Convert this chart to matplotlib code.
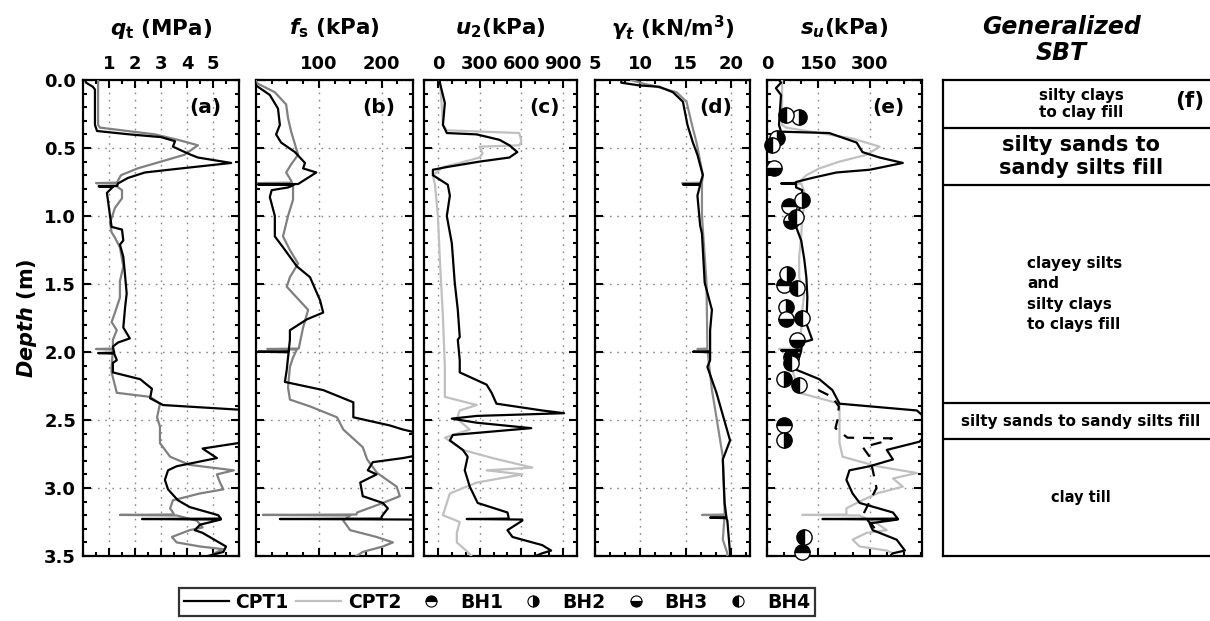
import numpy as np
import matplotlib
matplotlib.use("Agg")
from matplotlib import pyplot as plt
from matplotlib.lines import Line2D
from matplotlib.ticker import AutoMinorLocator, MultipleLocator

# ---- profiles: columns are (depth m, value) ----
qt_cpt1 = np.array([
    [0.00, 0.08], [0.02, 0.12], [0.05, 0.38], [0.07, 0.46], [0.33, 0.46],
    [0.375, 0.54], [0.40, 1.8], [0.42, 3.0], [0.45, 3.54], [0.49, 3.46],
    [0.52, 3.8], [0.55, 4.15], [0.57, 4.42], [0.61, 5.7], [0.655, 3.54],
    [0.68, 2.38], [0.72, 1.73], [0.76, 1.35], [0.78, 1.30], [0.782, 0.60],
    [0.786, 1.15], [0.83, 0.92], [0.90, 0.97], [1.00, 1.04], [1.08, 1.10],
    [1.10, 1.50], [1.18, 1.55], [1.21, 1.42], [1.30, 1.55], [1.40, 1.60],
    [1.57, 1.68], [1.67, 1.62], [1.82, 1.55], [1.90, 1.80], [1.93, 1.35],
    [1.96, 1.15], [2.005, 1.20], [2.008, 0.58], [2.012, 1.20], [2.06, 1.30],
    [2.08, 1.15], [2.15, 1.15], [2.20, 2.20], [2.27, 2.65], [2.34, 2.58],
    [2.39, 3.08], [2.43, 6.5], [2.55, 7.5], [2.66, 6.3], [2.71, 4.6],
    [2.78, 5.15], [2.84, 3.6], [2.87, 3.27], [2.94, 3.15], [3.01, 3.27],
    [3.09, 3.65], [3.14, 4.1], [3.20, 5.2], [3.225, 5.3], [3.228, 2.27],
    [3.232, 5.3], [3.27, 4.5], [3.31, 4.3], [3.33, 4.6], [3.43, 5.5],
    [3.47, 5.4], [3.50, 4.8]])
qt_cpt2 = np.array([
    [0.00, 0.58], [0.33, 0.58], [0.35, 0.65], [0.40, 2.77], [0.44, 3.65],
    [0.48, 4.42], [0.55, 3.9], [0.60, 3.0], [0.65, 2.1], [0.70, 1.46],
    [0.755, 1.30], [0.758, 0.50], [0.762, 1.30], [0.79, 1.35], [0.81, 1.5],
    [0.87, 1.5], [0.94, 1.23], [1.05, 1.04], [1.12, 1.10], [1.16, 1.23],
    [1.23, 1.42], [1.37, 1.55], [1.48, 1.42], [1.60, 1.42], [1.71, 1.23],
    [1.78, 1.10], [1.84, 1.30], [1.91, 1.15], [1.975, 1.15], [1.978, 0.50],
    [1.982, 1.15], [2.11, 1.10], [2.15, 1.10], [2.30, 1.30], [2.33, 2.58],
    [2.38, 2.96], [2.48, 2.85], [2.55, 2.96], [2.67, 2.96], [2.77, 3.35],
    [2.83, 4.1], [2.87, 5.8], [2.90, 5.15], [2.96, 5.27], [3.01, 5.4],
    [3.04, 4.5], [3.09, 3.46], [3.15, 3.35], [3.18, 3.46], [3.195, 3.5],
    [3.198, 1.42], [3.202, 3.6], [3.24, 4.38], [3.29, 4.6], [3.31, 4.1],
    [3.36, 3.42], [3.40, 3.6], [3.43, 4.5], [3.45, 5.4], [3.47, 5.15],
    [3.50, 4.9]])

fs_cpt1 = np.array([
    [0.00, -2], [0.04, 0], [0.11, 22], [0.21, 35], [0.33, 38], [0.40, 32],
    [0.46, 40], [0.53, 62], [0.61, 78], [0.65, 75], [0.68, 96], [0.765, 67],
    [0.768, 3], [0.772, 60], [0.79, 51], [0.81, 25], [0.86, 22], [1.00, 30],
    [1.15, 30], [1.23, 43], [1.37, 65], [1.45, 86], [1.62, 102], [1.71, 107],
    [1.76, 81], [1.84, 54], [1.91, 54], [1.995, 52], [1.998, 3], [2.002, 52],
    [2.04, 51], [2.13, 49], [2.22, 46], [2.28, 107], [2.37, 155], [2.48, 155],
    [2.54, 213], [2.57, 234], [2.62, 280], [2.74, 280], [2.78, 234],
    [2.81, 186], [2.87, 178], [2.90, 192], [2.96, 166], [3.06, 170],
    [3.11, 202], [3.15, 210], [3.21, 200], [3.225, 200], [3.228, 38],
    [3.232, 260], [3.30, 290], [3.45, 280], [3.50, 270]])
fs_cpt2 = np.array([
    [0.00, 0], [0.02, 0], [0.09, 30], [0.18, 48], [0.28, 51], [0.38, 56],
    [0.55, 67], [0.62, 56], [0.68, 48], [0.74, 56], [0.755, 57], [0.758, 3],
    [0.762, 58], [0.79, 59], [0.88, 59], [1.00, 51], [1.15, 43], [1.25, 54],
    [1.35, 67], [1.45, 54], [1.52, 49], [1.60, 65], [1.69, 83], [1.82, 75],
    [1.93, 70], [1.975, 68], [1.978, 18], [1.982, 65], [2.04, 59], [2.11, 54],
    [2.26, 51], [2.35, 54], [2.40, 86], [2.48, 129], [2.57, 139], [2.70, 170],
    [2.79, 177], [2.89, 193], [2.99, 224], [3.06, 229], [3.11, 202],
    [3.18, 161], [3.195, 160], [3.198, 11], [3.202, 150], [3.24, 139],
    [3.31, 150], [3.36, 192], [3.40, 218], [3.43, 202], [3.47, 170],
    [3.50, 160]])

u2_cpt1 = np.array([
    [0.00, 14], [0.02, 14], [0.17, 50], [0.33, 36], [0.39, 64], [0.40, 279],
    [0.44, 443], [0.48, 514], [0.53, 571], [0.57, 514], [0.60, 300],
    [0.64, 64], [0.66, -36], [0.70, -36], [0.77, 71], [0.85, 86], [1.00, 64],
    [1.20, 100], [1.49, 121], [1.69, 143], [1.89, 157], [1.91, 143],
    [2.06, 157], [2.15, 157], [2.24, 350], [2.30, 386], [2.38, 421],
    [2.43, 750], [2.45, 907], [2.47, 279], [2.49, 100], [2.52, 279],
    [2.56, 671], [2.61, 107], [2.65, 86], [2.72, 179], [2.77, 214],
    [2.87, 193], [2.99, 229], [3.11, 286], [3.18, 500], [3.225, 510],
    [3.228, 207], [3.232, 607], [3.24, 607], [3.31, 500], [3.36, 536],
    [3.42, 750], [3.46, 814], [3.48, 750], [3.50, 700]])
u2_cpt2 = np.array([
    [0.00, 14], [0.21, 29], [0.33, 36], [0.37, 64], [0.39, 586], [0.45, 600],
    [0.48, 586], [0.49, 300], [0.54, 321], [0.57, 300], [0.61, 157],
    [0.64, 36], [0.70, -36], [0.77, -21], [1.00, 0], [1.32, 14], [1.74, 36],
    [2.11, 50], [2.33, 50], [2.39, 279], [2.43, 157], [2.49, 136],
    [2.57, 229], [2.63, 50], [2.72, 179], [2.78, 393], [2.85, 679],
    [2.87, 350], [2.90, 607], [2.96, 279], [3.04, 86], [3.11, 64],
    [3.20, 36], [3.25, 157], [3.33, 136], [3.40, 136], [3.47, 214],
    [3.50, 240]])

gam_cpt1 = np.array([
    [0.00, 7.9], [0.02, 7.9], [0.04, 9.9], [0.05, 12.1], [0.09, 13.6],
    [0.16, 14.7], [0.33, 15.2], [0.46, 15.8], [0.55, 16.3], [0.70, 16.9],
    [0.765, 16.6], [0.768, 14.7], [0.772, 16.6], [0.85, 16.3], [1.07, 16.6],
    [1.13, 16.8], [1.49, 17.1], [1.69, 17.9], [1.84, 17.7], [1.995, 17.7],
    [1.998, 15.8], [2.002, 17.7], [2.06, 17.7], [2.11, 17.4], [2.30, 18.4],
    [2.65, 19.9], [2.79, 19.1], [3.11, 19.3], [3.215, 19.5], [3.218, 17.7],
    [3.222, 19.5], [3.24, 19.6], [3.48, 19.9], [3.50, 19.9]])
gam_cpt2 = np.array([
    [0.00, 9.0], [0.03, 10.5], [0.04, 11.3], [0.09, 14.0], [0.16, 15.1],
    [0.33, 15.7], [0.46, 16.2], [0.70, 16.9], [0.755, 16.8], [0.758, 14.6],
    [0.762, 16.8], [1.00, 16.8], [1.49, 17.3], [1.975, 17.4], [1.978, 16.3],
    [1.982, 17.4], [2.28, 17.9], [2.40, 18.2], [2.77, 19.1], [3.18, 19.3],
    [3.195, 19.3], [3.198, 16.8], [3.202, 19.3], [3.38, 19.1], [3.48, 19.6],
    [3.50, 19.6]])

su_cpt1 = np.array([
    [0.00, 35], [0.02, 41], [0.06, 26], [0.11, 41], [0.33, 35], [0.38, 41],
    [0.39, 182], [0.46, 262], [0.53, 279], [0.57, 329], [0.61, 397],
    [0.66, 300], [0.68, 203], [0.72, 132], [0.75, 85], [0.758, 82],
    [0.761, 41], [0.765, 85], [0.79, 85], [0.81, 103], [0.88, 100],
    [1.08, 85], [1.18, 100], [1.32, 109], [1.45, 115], [1.60, 118],
    [1.79, 115], [1.91, 132], [1.93, 103], [1.985, 100], [1.988, 41],
    [1.992, 100], [2.04, 94], [2.13, 85], [2.20, 153], [2.28, 191],
    [2.38, 212], [2.43, 438], [2.50, 470], [2.60, 470], [2.66, 445],
    [2.72, 350], [2.79, 368], [2.84, 300], [2.87, 241], [2.94, 232],
    [3.04, 250], [3.11, 271], [3.18, 368], [3.225, 382], [3.228, 162],
    [3.232, 382], [3.26, 300], [3.31, 309], [3.38, 379], [3.46, 403],
    [3.48, 368], [3.50, 360]])
su_cpt2 = np.array([
    [0.00, 44], [0.33, 44], [0.35, 56], [0.43, 250], [0.49, 329], [0.55, 291],
    [0.60, 212], [0.65, 153], [0.70, 115], [0.75, 94], [0.755, 94],
    [0.758, 44], [0.762, 100], [0.86, 115], [1.00, 103], [1.15, 100],
    [1.30, 94], [1.45, 94], [1.57, 109], [1.69, 103], [1.84, 100],
    [1.91, 94], [1.975, 94], [1.978, 35], [1.982, 94], [2.13, 74],
    [2.30, 94], [2.38, 212], [2.48, 212], [2.67, 212], [2.77, 221],
    [2.84, 321], [2.89, 438], [2.93, 368], [2.99, 397], [3.04, 321],
    [3.11, 262], [3.15, 232], [3.195, 232], [3.198, 103], [3.202, 271],
    [3.26, 321], [3.31, 350], [3.33, 291], [3.38, 250], [3.43, 271],
    [3.46, 350], [3.48, 368], [3.50, 360]])
su_cpt1_alt = np.array([
    [2.28, 150], [2.33, 190], [2.40, 210], [2.50, 206], [2.56, 200],
    [2.63, 235], [2.635, 365], [2.66, 340], [2.70, 280], [2.77, 300],
    [2.88, 310], [3.00, 320], [3.10, 300], [3.20, 280], [3.28, 310],
    [3.32, 320]])

# lab strengths from boreholes
bh1_depth = [0.93, 1.51, 2.04, 2.54, 3.47]
bh1_su = [65, 50, 71, 50, 103]
bh2_depth = [0.27, 0.43, 0.88, 1.43, 1.67, 2.20, 2.65]
bh2_su = [94, 29, 103, 59, 56, 50, 50]
bh3_depth = [0.65, 1.04, 1.76, 1.91]
bh3_su = [21, 71, 56, 88]
bh4_depth = [0.26, 0.48, 1.01, 1.53, 1.75, 2.08, 2.24, 3.36]
bh4_su = [56, 15, 85, 88, 103, 71, 94, 109]

# soil behaviour type layers
sbt_bounds = [0.0, 0.35, 0.77, 2.375, 2.64, 3.5]
sbt_labels = ["silty clays\nto clay fill", "silty sands to\nsandy silts fill",
              "clayey silts\nand\nsilty clays\nto clays fill",
              "silty sands to sandy silts fill", "clay till"]

plt.rcParams["font.family"] = ["DejaVu Sans"]
plt.rcParams["font.weight"] = "bold"
plt.rcParams["axes.labelweight"] = "bold"
plt.rcParams["font.size"] = 13
plt.rcParams["mathtext.fontset"] = "custom"
plt.rcParams["mathtext.rm"] = "DejaVu Sans:bold"
plt.rcParams["mathtext.it"] = "DejaVu Sans:italic:bold"
plt.rcParams["mathtext.bf"] = "DejaVu Sans:bold"
plt.rcParams["axes.linewidth"] = 1.6

W, H = 1210, 621
TOP, BOT = 80, 556


def rect(left, right):
    return [left / W, 1 - BOT / H, (right - left) / W, (BOT - TOP) / H]


fig = plt.figure(figsize=(W / 100, H / 100), dpi=100)

panels = [
    dict(pos=(83, 239), title=r"$q_\mathrm{t}$ (MPa)", xlim=(0, 6),
         ticks=[1, 2, 3, 4, 5], minor=2, tag="(a)",
         data=(qt_cpt1, qt_cpt2), grey="#808080"),
    dict(pos=(256, 413), title=r"$f_\mathrm{s}$ (kPa)", xlim=(0, 250),
         ticks=[100, 200], minor=4, tag="(b)",
         data=(fs_cpt1, fs_cpt2), grey="#808080"),
    dict(pos=(424, 577), title=r"$u_\mathrm{2}$(kPa)", xlim=(-100, 1000),
         ticks=[0, 300, 600, 900], minor=3, tag="(c)",
         data=(u2_cpt1, u2_cpt2), grey="#c0c0c0"),
    dict(pos=(595, 750), title=r"$\gamma_t$ (kN/m$^\mathrm{3}$)",
         xlim=(5, 22.1), ticks=[5, 10, 15, 20], minor=3, tag="(d)",
         data=(gam_cpt1, gam_cpt2), grey="#8a8a8a"),
    dict(pos=(767, 922), title=r"$s_u$(kPa)", xlim=(0, 453),
         ticks=[0, 150, 300], minor=3, tag="(e)",
         data=(su_cpt1, su_cpt2), grey="#c0c0c0"),
]

axes = []
for i, p in enumerate(panels):
    ax = fig.add_axes(rect(*p["pos"]))
    axes.append(ax)
    cpt1, cpt2 = p["data"]
    ax.plot(cpt2[:, 1], cpt2[:, 0], color=p["grey"], lw=1.6, zorder=3)
    ax.plot(cpt1[:, 1], cpt1[:, 0], color="black", lw=1.6, zorder=4)
    ax.set_xlim(*p["xlim"])
    ax.set_ylim(3.5, 0)
    ax.set_xticks(p["ticks"])
    ax.xaxis.set_minor_locator(AutoMinorLocator(p["minor"]))
    ax.yaxis.set_major_locator(MultipleLocator(0.5))
    ax.yaxis.set_minor_locator(MultipleLocator(0.1))
    ax.tick_params(which="both", direction="in", top=True, bottom=True,
                   left=True, right=True, labeltop=True, labelbottom=False,
                   labelleft=(i == 0), width=1.5, pad=5)
    ax.tick_params(which="major", length=6)
    ax.tick_params(which="minor", length=3)
    ax.grid(True, which="major", color="#888888", lw=1.0,
            linestyle=(0, (1.2, 4)))
    ax.text(0.885, 0.943, p["tag"], transform=ax.transAxes, ha="right",
            va="center", fontsize=14.5, zorder=6)
    ax.annotate(p["title"], xy=(0.5, 1), xycoords="axes fraction",
                xytext=(0, 37), textcoords="offset points", ha="center",
                va="center", fontsize=15.5)

axes[0].set_yticks(np.arange(0, 3.51, 0.5))
axes[0].set_yticklabels([f"{v:.1f}" for v in np.arange(0, 3.51, 0.5)])
axes[0].set_ylabel(r"$Depth$ (m)", fontsize=15, labelpad=4)

# alternative s_u estimate, dashed
ax_su = axes[4]
ax_su.plot(su_cpt1_alt[:, 1], su_cpt1_alt[:, 0], color="black", lw=1.6,
           linestyle=(0, (5, 4)), zorder=4)

bh_sets = [(bh1_su, bh1_depth, "top", "BH1"),
           (bh2_su, bh2_depth, "right", "BH2"),
           (bh3_su, bh3_depth, "bottom", "BH3"),
           (bh4_su, bh4_depth, "left", "BH4")]
for su, depth, fill, name in bh_sets:
    ax_su.plot(su, depth, linestyle="none", marker="o", markersize=11,
               fillstyle=fill, markerfacecolor="black",
               markerfacecoloralt="white", markeredgecolor="black",
               markeredgewidth=1.0, zorder=5, clip_on=False)

# generalized SBT column
axf = fig.add_axes(rect(943, 1219))
axf.set_xlim(0, 1)
axf.set_ylim(3.5, 0)
axf.set_xticks([])
axf.set_yticks([])
for b in sbt_bounds[1:-1]:
    axf.axhline(b, color="black", lw=1.6)
mids = [(a + b) / 2 for a, b in zip(sbt_bounds[:-1], sbt_bounds[1:])]
sizes = [11, 15, 11, 11, 10.5]
for k, (lab, mid, fs) in enumerate(zip(sbt_labels, mids, sizes)):
    if k == 2:
        axf.text(0.304, mid, lab, ha="left", va="center", fontsize=fs,
                 linespacing=1.45)
    else:
        axf.text(0.5, mid, lab, ha="center", va="center", fontsize=fs,
                 linespacing=1.2)
axf.text(0.945, 0.155, "(f)", ha="right", va="center", fontsize=15.5)
axf.annotate("Generalized\nSBT", xy=(0.43, 1), xycoords="axes fraction",
             xytext=(0, 29), textcoords="offset points", ha="center",
             va="center", fontsize=17, fontstyle="italic", linespacing=1.1)

# legend along the bottom
handles = [Line2D([], [], color="black", lw=1.6),
           Line2D([], [], color="#c0c0c0", lw=1.6)]
for su, depth, fill, name in bh_sets:
    handles.append(Line2D([], [], linestyle="none", marker="o", markersize=8,
                          fillstyle=fill, markerfacecolor="black",
                          markerfacecoloralt="white", markeredgecolor="black",
                          markeredgewidth=0.8))
labels = ["CPT1", "CPT2", "BH1", "BH2", "BH3", "BH4"]
leg = fig.legend(handles, labels, loc="center",
                 bbox_to_anchor=(497 / W, 1 - 602 / H), ncol=6,
                 frameon=True, fancybox=False, edgecolor="black",
                 handlelength=2.4, handletextpad=0.35, columnspacing=0.4,
                 borderpad=0.25, borderaxespad=0, fontsize=13.5)
leg.get_frame().set_linewidth(1.6)

fig.savefig("out.png", dpi=100)
